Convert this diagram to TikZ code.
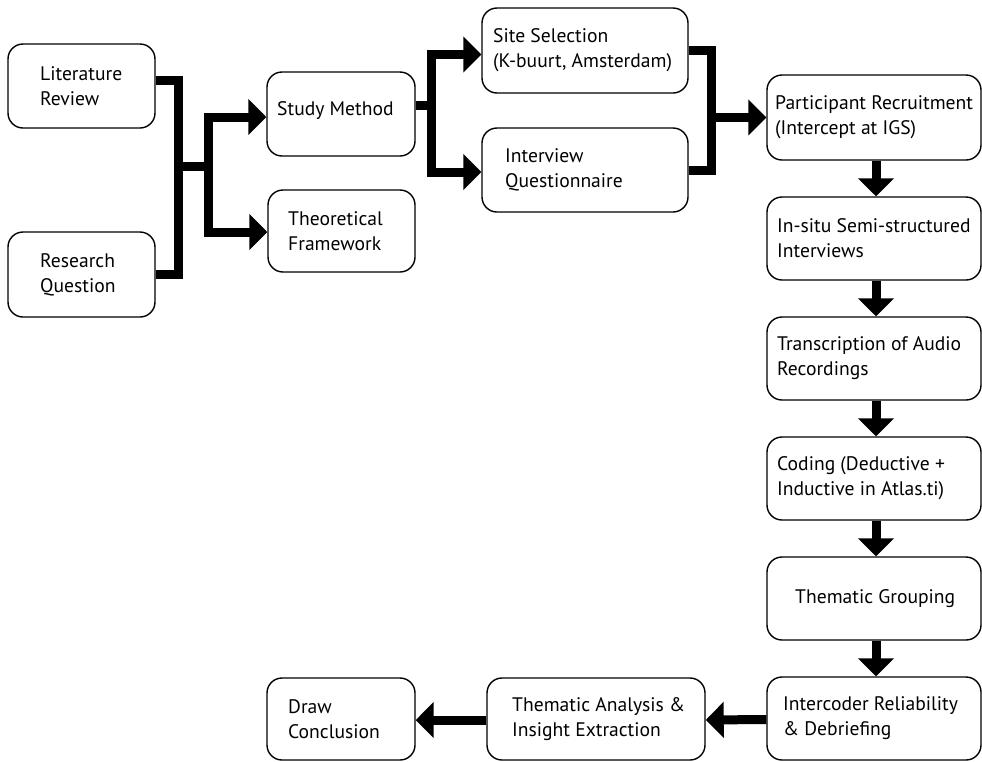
\documentclass[tikz,border=0pt]{standalone}
\usepackage{fontspec}
\setmainfont{PT Sans}
\usetikzlibrary{arrows.meta}
\begin{document}
\begin{tikzpicture}[x=1pt,y=-1pt,
  box/.style={draw=black, line width=1.4pt, rounded corners=15pt, fill=white, inner sep=0pt},
  txt/.style={anchor=west, align=left, inner sep=0pt, font=\fontsize{19.6}{25}\selectfont},
  conn/.style={line width=9pt, line join=miter},
  arr/.style={line width=9pt, -{Triangle[length=18pt,width=35pt]}}]
\useasboundingbox (0,0) rectangle (982,761);

% boxes
\node[box, minimum width=147pt, minimum height=84pt] (lit) at (81.5,86) {};
\node[box, minimum width=147pt, minimum height=85pt] (rq) at (81.5,274.5) {};
\node[box, minimum width=148pt, minimum height=84pt] (sm) at (341,114) {};
\node[box, minimum width=147pt, minimum height=82pt] (tf) at (341.5,231) {};
\node[box, minimum width=206pt, minimum height=85pt] (ss) at (585,50.5) {};
\node[box, minimum width=206pt, minimum height=84pt] (iq) at (585,170) {};
\node[box, minimum width=214pt, minimum height=85pt] (pr) at (874,117.5) {};
\node[box, minimum width=214pt, minimum height=83pt] (is) at (874,238.5) {};
\node[box, minimum width=214pt, minimum height=83pt] (tr) at (874,358.5) {};
\node[box, minimum width=214pt, minimum height=83pt] (co) at (874,478.5) {};
\node[box, minimum width=214pt, minimum height=83pt] (tg) at (874,598.5) {};
\node[box, minimum width=214pt, minimum height=83pt] (ic) at (874,718.5) {};
\node[box, minimum width=218pt, minimum height=82pt] (ta) at (596,719) {};
\node[box, minimum width=148pt, minimum height=82pt] (dc) at (341,719) {};

% texts
\node[txt] (tlit) at (40,86) {Literature\\Review};
\node[txt] (trq) at (40,274.5) {Research\\Question};
\node[txt] (tsm) at (277,111) {Study Method};
\node[txt] (ttf) at (288,231) {Theoretical\\Framework};
\node[txt] (tss) at (493,50.5) {Site Selection\\(K-buurt, Amsterdam)};
\node[txt] (tiq) at (505,170) {Interview\\Questionnaire};
\node[txt] (tpr) at (775,117.5) {Participant Recruitment\\(Intercept at IGS)};
\node[txt] (tis) at (777,238.5) {In-situ Semi-structured\\Interviews};
\node[txt] (ttr) at (777,358.5) {Transcription of Audio\\Recordings};
\node[txt] (tco) at (777,478.5) {Coding (Deductive +\\Inductive in Atlas.ti)};
\node[txt] (ttg) at (795,598.5) {Thematic Grouping};
\node[txt] (tic) at (783,718.5) {Intercoder Reliability\\\& Debriefing};
\node[txt] (tta) at (512,719) {Thematic Analysis \&\\Insight Extraction};
\node[txt] (tdc) at (288,719) {Draw\\Conclusion};

% connectors
\coordinate (a1) at (178,166);
\coordinate (a2) at (208,166);
\draw[conn] ([yshift=6pt]lit.east) -| (a1) |- (rq.east);
\draw[conn] (a1) -- (a2);
\draw[arr] (a2) |- ([yshift=-3pt]sm.west);
\draw[arr] (a2) |- ([yshift=-1pt]tf.west);

\coordinate (b1) at (431,105);
\draw[conn] ([yshift=9pt]sm.east) -- (b1);
\draw[arr] (b1) |- ([yshift=-4pt]ss.west);
\draw[arr] (b1) |- ([yshift=-2pt]iq.west);

\coordinate (c1) at (711,117.5);
\draw[conn] (ss.east) -| (c1) |- (iq.east);
\draw[arr] (c1) -- (pr.west);

\draw[arr] ([xshift=2pt]pr.south) -- ([xshift=2pt]is.north);
\draw[arr] ([xshift=2pt]is.south) -- ([xshift=2pt]tr.north);
\draw[arr] ([xshift=2pt]tr.south) -- ([xshift=2pt]co.north);
\draw[arr] ([xshift=2pt]co.south) -- ([xshift=2pt]tg.north);
\draw[arr] ([xshift=2pt]tg.south) -- ([xshift=2pt]ic.north);
\draw[arr] ([yshift=-1pt]ic.west) -- ([yshift=-1pt]ta.east);
\draw[arr] ([yshift=-1pt]ta.west) -- ([yshift=-1pt]dc.east);
\end{tikzpicture}
\end{document}
